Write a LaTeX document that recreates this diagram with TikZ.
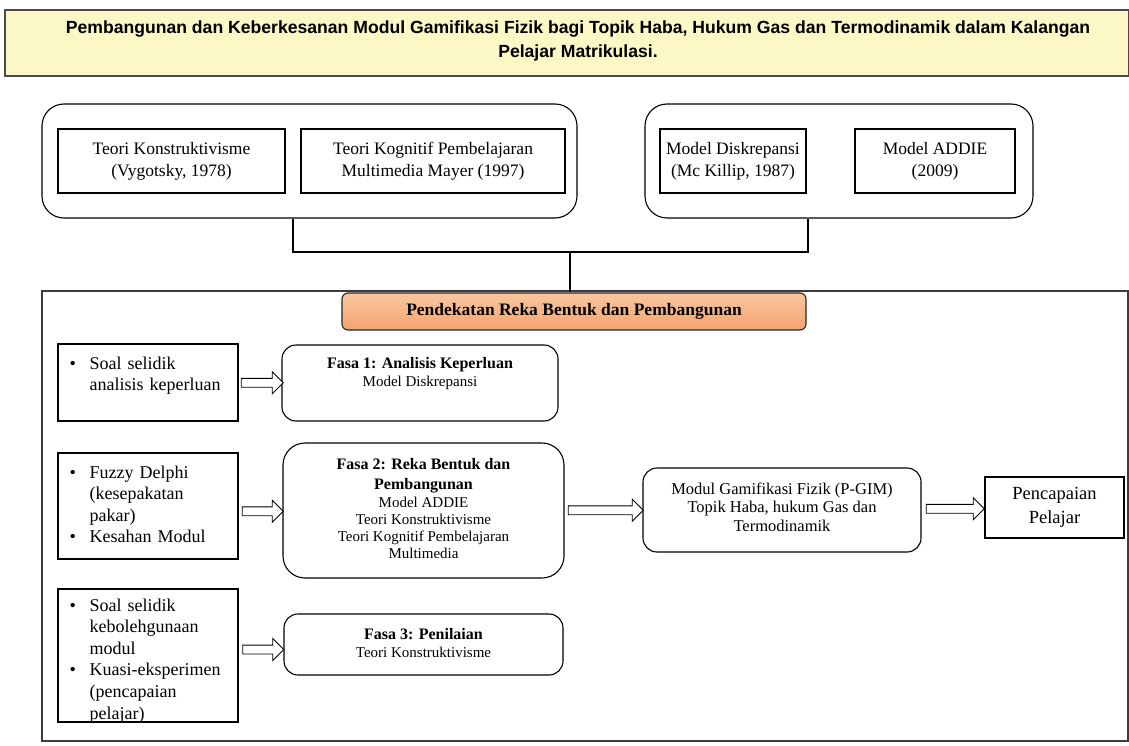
\documentclass[tikz,border=0pt]{standalone}
\usepackage{fontspec}
\setmainfont{Liberation Serif}
\newfontfamily\arialf{Liberation Sans}
\usetikzlibrary{shapes.arrows,calc}
\definecolor{titlefill}{HTML}{FBF8C6}
\definecolor{titledraw}{HTML}{4A4A4A}
\definecolor{orangetop}{HTML}{F9C6A0}
\definecolor{orangebot}{HTML}{F3A46E}
\definecolor{framegray}{HTML}{3C3C3C}
\tikzset{
  sqbox/.style={draw=black, line width=1.1pt, inner sep=0pt},
  rbox/.style={draw=black, line width=1.1pt, rounded corners=14pt, inner sep=0pt},
  grp/.style={draw=black, line width=1.1pt, rounded corners=22pt, inner sep=0pt},
  fatarrow/.style={single arrow, draw=black, line width=0.9pt, fill=white,
    inner xsep=0pt, inner ysep=4pt, single arrow head extend=6.5pt, single arrow tip angle=90,
    anchor=center},
  toptext/.style={font=\fontsize{17.5}{22}\selectfont, align=center},
  ftitle/.style={font=\fontsize{16}{20}\selectfont\bfseries, align=center, inner sep=0pt},
  fsub/.style={font=\fontsize{15}{16.8}\selectfont, align=center, inner sep=0pt},
  bullettext/.style={font=\fontsize{18}{21.6}\selectfont, text width=168pt, inner sep=0pt, anchor=north west},
  conn/.style={draw=black, line width=1.1pt}
}
\newcommand{\bul}[1]{\noindent\hangindent=20pt\hangafter=1\makebox[20pt][l]{\textbullet}#1\par}
\begin{document}
\begin{tikzpicture}[x=1pt,y=-1pt]
\useasboundingbox (0,0) rectangle (1129,746);
\fill[white] (0,0) rectangle (1129,746);

% title
\node[draw=titledraw, fill=titlefill, line width=2pt, minimum width=1124, minimum height=66, inner sep=0pt] (title) at (567,43) {};
\node[font=\arialf\bfseries\fontsize{17.6}{24}\selectfont, align=center, inner sep=0pt] (titletext) at (578,41)
  {Pembangunan dan Keberkesanan Modul Gamifikasi Fizik bagi Topik Haba, Hukum Gas dan Termodinamik dalam Kalangan\\Pelajar Matrikulasi.};

% top groups
\node[grp, minimum width=535, minimum height=114] (gl) at (309.5,161) {};
\node[grp, minimum width=388, minimum height=114] (gr) at (839,161) {};
\node[sqbox, minimum width=227, minimum height=64, toptext] (ta) at (171.5,161) {Teori Konstruktivisme\\(Vygotsky, 1978)};
\node[sqbox, minimum width=264, minimum height=64, toptext] (tb) at (433,161) {Teori Kognitif Pembelajaran\\Multimedia Mayer (1997)};
\node[sqbox, minimum width=146, minimum height=64, toptext] (tc) at (733,161) {Model Diskrepansi\\(Mc Killip, 1987)};
\node[sqbox, minimum width=160, minimum height=64, toptext] (td) at (935,161) {Model ADDIE\\(2009)};

% big frame
\node[draw=framegray, line width=1.5pt, minimum width=1086, minimum height=450, inner sep=0pt] (frame) at (585,516) {};

% orange header
\node[draw=black!85, line width=1.1pt, rounded corners=6pt, top color=orangetop, bottom color=orangebot,
  minimum width=464, minimum height=37, inner sep=0pt, font=\fontsize{17.5}{18}\selectfont\bfseries] (hdr) at (574,311.5) {Pendekatan Reka Bentuk dan Pembangunan};

% connectors between groups
\coordinate (jl) at (gl.south -| 293,0);
\coordinate (jr) at (gr.south -| 808,0);
\draw[conn] (jl) -- (293,252) -- (808,252) -- (jr);
\draw[conn] (570,252) -- (hdr.north -| 570,0);

% left boxes
\node[sqbox, minimum width=180, minimum height=77] (l1) at (148,382.5) {};
\node[bullettext] (l1t) at ([xshift=12pt,yshift=-13pt]l1.north west) {\bul{Soal selidik\newline analisis keperluan}};
\node[sqbox, minimum width=180, minimum height=106] (l2) at (148,506) {};
\node[bullettext] (l2t) at ([xshift=12pt,yshift=-13pt]l2.north west) {\bul{Fuzzy Delphi\newline (kesepakatan\newline pakar)}\bul{Kesahan Modul}};
\node[sqbox, minimum width=180, minimum height=133] (l3) at (148,655.5) {};
\node[bullettext] (l3t) at ([xshift=12pt,yshift=-10pt]l3.north west) {\bul{Soal selidik\newline kebolehgunaan\newline modul}\bul{Kuasi-eksperimen\newline (pencapaian\newline pelajar)}};

% phase boxes
\node[rbox, minimum width=276, minimum height=76] (f1) at (420,383) {};
\node[ftitle] (f1t) at (420,365) {Fasa 1: Analisis Keperluan};
\node[fsub] (f1s) at (420,383) {Model Diskrepansi};

\node[rbox, rounded corners=22pt, minimum width=281, minimum height=135] (f2) at (423.5,510.5) {};
\node[ftitle] (f2t) at (423.5,476) {Fasa 2: Reka Bentuk dan\\Pembangunan};
\node[fsub] (f2s) at (423.5,528) {Model ADDIE\\Teori Konstruktivisme\\Teori Kognitif Pembelajaran\\Multimedia};

\node[rbox, minimum width=279, minimum height=61] (f3) at (423.5,644.5) {};
\node[ftitle] (f3t) at (423.5,634) {Fasa 3: Penilaian};
\node[fsub] (f3s) at (423.5,652) {Teori Konstruktivisme};

% module & outcome
\node[rbox, minimum width=278, minimum height=84] (mod) at (782,510) {};
\node[font=\fontsize{16.5}{18.5}\selectfont, align=center, inner sep=0pt] (modt) at (782,507)
  {Modul Gamifikasi Fizik (P-GIM)\\Topik Haba, hukum Gas dan\\Termodinamik};
\node[sqbox, minimum width=139, minimum height=61, font=\fontsize{18.5}{24}\selectfont, align=center] (pel) at (1054.5,507.5) {Pencapaian\\Pelajar};

% hollow arrows
\path (l1.east) -- (f1.west) node[fatarrow, midway, minimum height=42pt] (a1) {};
\path (l2.east) -- ([yshift=-6pt]f2.west) node[fatarrow, midway, minimum height=41pt] (a2) {};
\path (l3.east) -- ([yshift=1pt]f3.west) node[fatarrow, midway, minimum height=41pt] (a3) {};
\path (f2.east) -- (mod.west) node[fatarrow, midway, minimum height=75pt] (a4) {};
\path (mod.east) -- (pel.west) node[fatarrow, midway, minimum height=58pt] (a5) {};
\end{tikzpicture}
\end{document}
